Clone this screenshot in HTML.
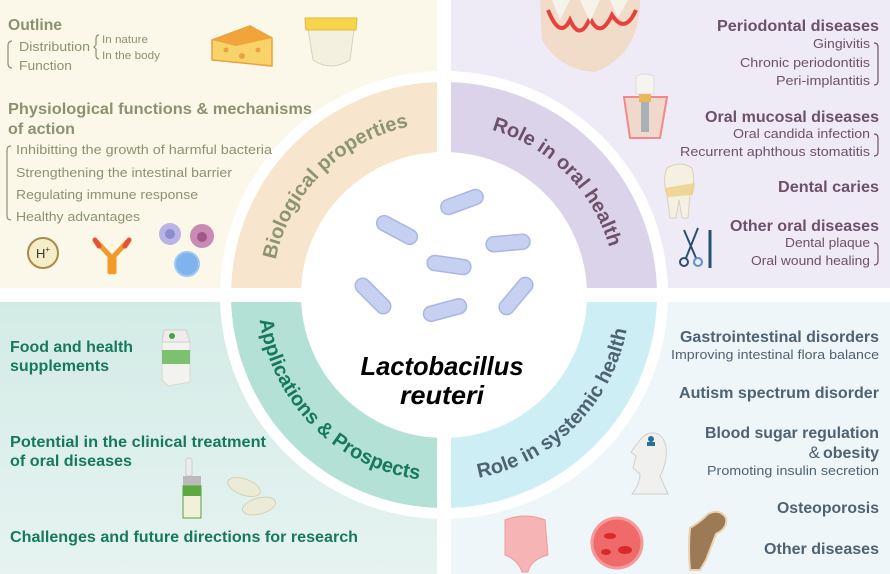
<!DOCTYPE html>
<html><head><meta charset="utf-8"><style>
html,body{margin:0;padding:0;background:#fff}
svg{display:block}
text{font-family:"Liberation Sans",sans-serif}
</style></head><body>
<svg width="890" height="574" viewBox="0 0 890 574" xmlns="http://www.w3.org/2000/svg">
<defs>
<linearGradient id="bl" x1="0" y1="0" x2="0" y2="1"><stop offset="0" stop-color="#d3ebe6"/><stop offset="1" stop-color="#e6f3f1"/></linearGradient>
<path id="pTL" d="M272,295 A172,172 0 0 1 444,123"/>
<path id="pTR" d="M444,123 A172,172 0 0 1 616,295"/>
<path id="pBL" d="M258,295 A186,186 0 0 0 444,481"/>
<path id="pBR" d="M444,481 A186,186 0 0 0 630,295"/>
</defs>
<rect x="0" y="0" width="437" height="288" fill="#fbf8ea"/>
<rect x="451" y="0" width="439" height="288" fill="#eeebf6"/>
<rect x="0" y="302" width="437" height="272" fill="url(#bl)"/>
<rect x="451" y="302" width="439" height="272" fill="#eef6fa"/>
<circle cx="444" cy="295" r="224" fill="#fff"/>
<path d="M444,295 L231,295 A213,213 0 0 1 444,82 Z" fill="#f7e5cd"/>
<path d="M444,295 L444,82 A213,213 0 0 1 657,295 Z" fill="#dbd3e9"/>
<path d="M444,295 L231,295 A213,213 0 0 0 444,508 Z" fill="#b4e1d5"/>
<path d="M444,295 L444,508 A213,213 0 0 0 657,295 Z" fill="#cdeef4"/>
<circle cx="444" cy="295" r="143" fill="#fff"/>
<rect x="437" y="0" width="14" height="574" fill="#fff"/>
<rect x="0" y="288" width="890" height="14" fill="#fff"/>
<text font-size="20" font-weight="bold" fill="#8c9470"><textPath href="#pTL" startOffset="50%" text-anchor="middle">Biological properties</textPath></text>
<text font-size="20" font-weight="bold" fill="#6d5069"><textPath href="#pTR" startOffset="50%" text-anchor="middle">Role in oral health</textPath></text>
<text font-size="20" font-weight="bold" fill="#17795b"><textPath href="#pBL" startOffset="50%" text-anchor="middle">Applications &amp; Prospects</textPath></text>
<text font-size="20" font-weight="bold" fill="#4e6272"><textPath href="#pBR" startOffset="50%" text-anchor="middle">Role in systemic health</textPath></text>
<g fill="#c6d1f1" stroke="#a8b7e6" stroke-width="1.5">
<rect x="-22" y="-7.5" width="44" height="15" rx="7.5" transform="translate(462,202) rotate(-20)"/>
<rect x="-22" y="-7.5" width="44" height="15" rx="7.5" transform="translate(397,230) rotate(28)"/>
<rect x="-22" y="-7.5" width="44" height="15" rx="7.5" transform="translate(508,243) rotate(-5)"/>
<rect x="-22" y="-7.5" width="44" height="15" rx="7.5" transform="translate(449,265) rotate(8)"/>
<rect x="-22" y="-7.5" width="44" height="15" rx="7.5" transform="translate(373,296) rotate(45)"/>
<rect x="-22" y="-7.5" width="44" height="15" rx="7.5" transform="translate(445,310) rotate(-15)"/>
<rect x="-22" y="-7.5" width="44" height="15" rx="7.5" transform="translate(516,296) rotate(-50)"/>
</g>
<text x="442" y="375" font-size="26" font-weight="bold" font-style="italic" text-anchor="middle" textLength="163" lengthAdjust="spacingAndGlyphs">Lactobacillus</text>
<text x="442" y="404" font-size="26" font-weight="bold" font-style="italic" text-anchor="middle" textLength="84" lengthAdjust="spacingAndGlyphs">reuteri</text>

<g fill="#8a9270">
<text x="8" y="30" font-size="16" font-weight="bold" textLength="54" lengthAdjust="spacingAndGlyphs">Outline</text>
<text x="19" y="51" font-size="13" textLength="71" lengthAdjust="spacingAndGlyphs">Distribution</text>
<text x="19" y="70" font-size="13" textLength="53" lengthAdjust="spacingAndGlyphs">Function</text>
<text x="102" y="43" font-size="11" textLength="46" lengthAdjust="spacingAndGlyphs">In nature</text>
<text x="102" y="59" font-size="11" textLength="58" lengthAdjust="spacingAndGlyphs">In the body</text>
<text x="8" y="114" font-size="16" font-weight="bold" textLength="304" lengthAdjust="spacingAndGlyphs">Physiological functions &amp; mechanisms</text>
<text x="8" y="134" font-size="16" font-weight="bold" textLength="67" lengthAdjust="spacingAndGlyphs">of action</text>
<text x="16" y="154" font-size="13" textLength="256" lengthAdjust="spacingAndGlyphs">Inhibitting the growth of harmful bacteria</text>
<text x="16" y="177" font-size="13" textLength="216" lengthAdjust="spacingAndGlyphs">Strengthening the intestinal barrier</text>
<text x="16" y="199" font-size="13" textLength="182" lengthAdjust="spacingAndGlyphs">Regulating immune response</text>
<text x="16" y="221" font-size="13" textLength="124" lengthAdjust="spacingAndGlyphs">Healthy advantages</text>
</g>
<g fill="none" stroke="#8a9270" stroke-width="1.2">
<path d="M12,41 Q8,41 8,46 L8,63 Q8,68 12,68"/>
<path d="M99,35 Q96,35 96,39 L96,45 L94,47 L96,49 L96,55 Q96,59 99,59"/>
<path d="M11,146 Q7,146 7,150 L7,216 Q7,220 11,220"/>
</g>
<path d="M212,40 L250,26 L272,38 L272,66 L212,60 Z" fill="#f7d36a" stroke="#e8a23c" stroke-width="1.5"/>
<path d="M212,40 L250,26 L272,38 L236,46 Z" fill="#f0a43a"/>
<circle cx="226" cy="50" r="2.5" fill="#e6a442"/><circle cx="242" cy="56" r="3" fill="#e6a442"/><circle cx="258" cy="50" r="2.5" fill="#e6a442"/>
<path d="M307,22 L355,22 L350,60 Q331,72 313,60 Z" fill="#f4f0e0" stroke="#d8d2bb"/>
<path d="M305,18 L357,18 L356,30 L306,30 Z" fill="#f7d54a" stroke="#e7b83a"/>
<circle cx="43" cy="253" r="15" fill="#f5edc8" stroke="#a88a4a" stroke-width="2"/>
<text x="43" y="258" font-size="13" text-anchor="middle" fill="#333">H<tspan font-size="8" dy="-6">+</tspan></text>
<g stroke-linecap="round" fill="none">
<path d="M110,272 L110,256 L97,242" stroke="#f09a2a" stroke-width="5"/>
<path d="M114,272 L114,256 L127,242" stroke="#f09a2a" stroke-width="5"/>
<path d="M95,240 L99,246" stroke="#e8503a" stroke-width="5"/>
<path d="M129,240 L125,246" stroke="#e8503a" stroke-width="5"/>
</g>
<circle cx="170" cy="234" r="11" fill="#b9b3e6"/><circle cx="170" cy="234" r="5" fill="#8f8bd0"/>
<circle cx="202" cy="236" r="12" fill="#c98ab4"/><circle cx="202" cy="237" r="5" fill="#a0588a"/>
<circle cx="187" cy="264" r="12" fill="#7fb3ee" stroke="#9cc8f4" stroke-width="2"/>

<g fill="#6d5069" text-anchor="end">
<text x="879" y="31" font-size="16" font-weight="bold" textLength="162" lengthAdjust="spacingAndGlyphs">Periodontal diseases</text>
<text x="870" y="48" font-size="13" textLength="57" lengthAdjust="spacingAndGlyphs">Gingivitis</text>
<text x="870" y="67" font-size="13" textLength="130" lengthAdjust="spacingAndGlyphs">Chronic periodontitis</text>
<text x="870" y="85" font-size="13" textLength="94" lengthAdjust="spacingAndGlyphs">Peri-implantitis</text>
<text x="879" y="122" font-size="16" font-weight="bold" textLength="174" lengthAdjust="spacingAndGlyphs">Oral mucosal diseases</text>
<text x="870" y="138" font-size="13" textLength="137" lengthAdjust="spacingAndGlyphs">Oral candida infection</text>
<text x="870" y="156" font-size="13" textLength="190" lengthAdjust="spacingAndGlyphs">Recurrent aphthous stomatitis</text>
<text x="879" y="192" font-size="16" font-weight="bold" textLength="101" lengthAdjust="spacingAndGlyphs">Dental caries</text>
<text x="879" y="231" font-size="16" font-weight="bold" textLength="149" lengthAdjust="spacingAndGlyphs">Other oral diseases</text>
<text x="870" y="247" font-size="13" textLength="85" lengthAdjust="spacingAndGlyphs">Dental plaque</text>
<text x="870" y="265" font-size="13" textLength="119" lengthAdjust="spacingAndGlyphs">Oral wound healing</text>
</g>
<g fill="none" stroke="#6d5069" stroke-width="1.2">
<path d="M874,43 Q878,43 878,47 L878,81 Q878,85 874,85"/>
<path d="M874,134 Q878,134 878,138 L878,152 Q878,156 874,156"/>
<path d="M874,243 Q878,243 878,247 L878,261 Q878,265 874,265"/>
</g>
<path d="M540,0 L640,0 Q640,55 595,72 Q560,70 542,40 Z" fill="#f1dbc9"/>
<path d="M548,10 Q560,40 570,20 Q580,42 590,18 Q600,40 612,15 Q625,35 636,10" fill="none" stroke="#e8403a" stroke-width="4"/>
<path d="M552,0 L560,20 L570,0 Z M580,0 L590,22 L600,0 Z M610,0 L618,18 L628,0 Z" fill="#f6f3ea"/>
<path d="M624,97 L667,97 L660,138 L630,138 Z" fill="#f1d8cc" stroke="#f08a8a" stroke-width="2"/>
<path d="M636,76 Q645,72 654,76 L654,94 L636,94 Z" fill="#f6f4f0" stroke="#ddd"/>
<rect x="639" y="94" width="12" height="8" fill="#e9b75a"/>
<rect x="641" y="102" width="8" height="30" fill="#aab0b8"/>
<path d="M667,168 Q680,160 692,168 Q696,185 690,195 L688,218 L682,218 L679,200 L676,218 L670,218 L667,195 Q662,180 667,168 Z" fill="#f4f0e2" stroke="#d9d1b8"/>
<path d="M665,188 L695,183 L693,195 L667,197 Z" fill="#ebcf84" opacity="0.8"/>
<g stroke="#2b4f6f" stroke-width="2" fill="none">
<path d="M684,230 L696,258"/><path d="M698,228 L686,258"/>
<circle cx="684" cy="262" r="4"/><circle cx="698" cy="262" r="4" stroke="#5a8fd0"/>
<path d="M710,230 L710,268" stroke-width="3"/>
</g>

<g fill="#17795b" font-weight="bold" font-size="16">
<text x="10" y="352" textLength="123" lengthAdjust="spacingAndGlyphs">Food and health</text>
<text x="10" y="371" textLength="99" lengthAdjust="spacingAndGlyphs">supplements</text>
<text x="10" y="447" textLength="256" lengthAdjust="spacingAndGlyphs">Potential in the clinical treatment</text>
<text x="10" y="466" textLength="122" lengthAdjust="spacingAndGlyphs">of oral diseases</text>
<text x="10" y="542" textLength="348" lengthAdjust="spacingAndGlyphs">Challenges and future directions for research</text>
</g>
<path d="M162,342 L190,342 L190,382 L168,386 L162,380 Z" fill="#f2f2ee" stroke="#d8d8d0"/>
<path d="M164,330 L186,330 L190,342 L162,342 Z" fill="#ececea" stroke="#d0d0ca"/>
<rect x="162" y="350" width="28" height="14" fill="#7cc070"/>
<circle cx="172" cy="336" r="3" fill="#4aa048"/>
<rect x="186" y="458" width="6" height="18" rx="2" fill="#ececec" stroke="#ccc"/>
<rect x="183" y="476" width="18" height="10" fill="#bbbbbb"/>
<rect x="183" y="486" width="18" height="32" fill="#f3f0da" stroke="#59a040" stroke-width="1"/>
<rect x="183" y="486" width="18" height="10" fill="#5aaa40"/>
<ellipse cx="244" cy="487" rx="17" ry="8" fill="#ecebd8" stroke="#d3d2b8" transform="rotate(20 244 487)"/>
<ellipse cx="259" cy="506" rx="17" ry="8" fill="#ecebd8" stroke="#d3d2b8" transform="rotate(-15 259 506)"/>

<g fill="#4e6272" text-anchor="end">
<text x="879" y="342" font-size="16" font-weight="bold" textLength="199" lengthAdjust="spacingAndGlyphs">Gastrointestinal disorders</text>
<text x="879" y="359" font-size="13" textLength="208" lengthAdjust="spacingAndGlyphs">Improving intestinal flora balance</text>
<text x="879" y="398" font-size="16" font-weight="bold" textLength="200" lengthAdjust="spacingAndGlyphs">Autism spectrum disorder</text>
<text x="879" y="438" font-size="16" font-weight="bold" textLength="174" lengthAdjust="spacingAndGlyphs">Blood sugar regulation</text>
<text x="820" y="458" font-size="17" text-anchor="end">&amp;</text>
<text x="879" y="458" font-size="16" font-weight="bold" textLength="56" lengthAdjust="spacingAndGlyphs">obesity</text>
<text x="879" y="475" font-size="13" textLength="172" lengthAdjust="spacingAndGlyphs">Promoting insulin secretion</text>
<text x="879" y="513" font-size="16" font-weight="bold" textLength="102" lengthAdjust="spacingAndGlyphs">Osteoporosis</text>
<text x="879" y="554" font-size="16" font-weight="bold" textLength="115" lengthAdjust="spacingAndGlyphs">Other diseases</text>
</g>
<path d="M640,440 Q648,430 658,434 Q668,440 666,458 Q664,470 660,476 L668,494 L632,494 Q640,484 640,474 L633,468 L636,456 L631,452 Z" fill="#f0f0ee" stroke="#cfcfcc"/>
<circle cx="651" cy="439" r="3" fill="#2b6f96"/><rect x="647" y="442" width="8" height="4" fill="#2b6f96"/>
<path d="M505,520 Q525,512 545,520 L548,555 Q530,560 528,572 L522,572 Q518,560 505,555 Z" fill="#f6b4b4" stroke="#f09a9a"/>
<circle cx="617" cy="543" r="25" fill="#f06a6a" stroke="#f59a9a" stroke-width="3"/>
<ellipse cx="610" cy="536" rx="6" ry="3" fill="#d82a2a"/><ellipse cx="625" cy="550" rx="7" ry="4" fill="#d82a2a"/><ellipse cx="606" cy="552" rx="5" ry="3" fill="#d82a2a"/>
<path d="M690,528 Q700,522 708,514 Q720,508 726,518 Q728,528 716,534 L706,560 L700,570 L690,570 Q688,548 690,528 Z" fill="#9b7a55" stroke="#ead3b0" stroke-width="2"/>
</svg>
</body></html>
